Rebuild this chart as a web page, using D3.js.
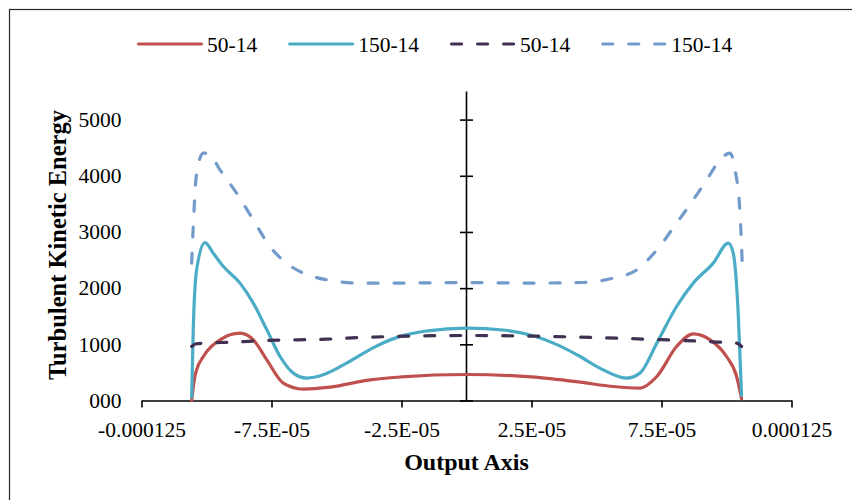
<!DOCTYPE html>
<html>
<head>
<meta charset="utf-8">
<script src="https://cdn.jsdelivr.net/npm/d3@7"></script>
<style>
  html, body { margin: 0; padding: 0; background: #fff; }
  svg { display: block; }
  text { font-family: "Liberation Serif", "Times New Roman", serif; fill: #000; }
</style>
</head>
<body>
<svg id="chart" width="852" height="500"></svg>
<script>
// Turbulent kinetic energy profiles across the output axis (x in metres)
const seriesNames = ["50-14", "150-14", "50-14", "150-14"];

const solid50X = [-10.57, -10.45, -10.38, -10.12, -9.48, -8.71, -8.2, -7.68, -7.05, -6.28, -5.25, -3.71, -2.5, 0, 2.5, 4.37, 5.65, 6.67, 7.32, 8.08, 8.72, 9.37, 10.0, 10.39, 10.58];
const solid50Y = [0, 420, 546, 783, 1080, 1199, 1080, 724, 310, 203, 238, 368, 420, 463, 420, 327, 249, 221, 427, 961, 1187, 1080, 783, 427, 30];

const solid150X = [-10.57, -10.51, -10.38, -10.06, -9.74, -9.35, -8.71, -8.2, -7.68, -7.17, -6.66, -6.15, -5.51, -4.61, -3.5, -2.5, -1.5, 0, 1.5, 2.5, 3.5, 4.37, 5.13, 6.16, 6.67, 7.32, 8.08, 8.72, 9.49, 10.07, 10.26, 10.45, 10.58];
const solid150Y = [60, 1258, 2326, 2811, 2622, 2384, 2089, 1733, 1258, 783, 487, 399, 457, 665, 960, 1150, 1240, 1290, 1250, 1160, 990, 783, 576, 399, 487, 1021, 1673, 2089, 2445, 2801, 2622, 1555, 90];

const dashed50X = [-10.57, -10.4, -9.0, -7.68, -5.38, -3.71, 0, 4.37, 6.9, 9.49, 10.39, 10.58];
const dashed50Y = [961, 1010, 1040, 1068, 1092, 1128, 1157, 1128, 1092, 1044, 1021, 961];

const dashed150X = [-10.57, -10.51, -10.38, -10.12, -9.93, -9.48, -8.84, -8.2, -7.56, -6.92, -6.28, -5.38, -4.1, -2.5, 0, 2.5, 4.37, 5.65, 6.55, 7.32, 8.08, 8.72, 9.24, 9.75, 10.13, 10.33, 10.52, 10.61];
const dashed150Y = [2445, 3093, 4046, 4402, 4402, 4105, 3690, 3215, 2740, 2445, 2267, 2148, 2089, 2090, 2100, 2090, 2100, 2178, 2326, 2681, 3156, 3571, 3927, 4283, 4402, 4105, 3334, 2384];

const xTickValues = [-0.000125, -0.000075, -0.000025, 0.000025, 0.000075, 0.000125];
const xTickLabels = ["-0.000125", "-7.5E-05", "-2.5E-05", "2.5E-05", "7.5E-05", "0.000125"];
const yTickValues = [0, 1000, 2000, 3000, 4000, 5000];
const yTickLabels = ["000", "1000", "2000", "3000", "4000", "5000"];

const colors = ["#C0504D", "#4BACC6", "#403152", "#729ACB"];
const dashed = [false, false, true, true];

const series = [
  { name: seriesNames[0], xs: solid50X, ys: solid50Y },
  { name: seriesNames[1], xs: solid150X, ys: solid150Y },
  { name: seriesNames[2], xs: dashed50X, ys: dashed50Y },
  { name: seriesNames[3], xs: dashed150X, ys: dashed150Y }
].map((s, i) => ({
  ...s,
  color: colors[i],
  dashed: dashed[i],
  points: s.xs.map((x, j) => ({ x: x * 1e-5, y: s.ys[j] }))
}));

const svg = d3.select("#chart");

// outer chart frame
svg.append("rect")
  .attr("x", 9.5).attr("y", 9.5)
  .attr("width", 1000).attr("height", 1000)
  .attr("fill", "none").attr("stroke", "#262626").attr("stroke-width", 1.2);

const x = d3.scaleLinear().domain([-0.000125, 0.000125]).range([141.5, 791.5]);
const y = d3.scaleLinear().domain([0, 5500]).range([400.5, 91.5]);

// horizontal axis with outward ticks
const xAxis = svg.append("g")
  .attr("transform", `translate(0,${y(0)})`)
  .call(d3.axisBottom(x).tickValues(xTickValues).tickFormat((d, i) => xTickLabels[i]).tickSize(7).tickSizeOuter(0).tickPadding(10));
xAxis.select(".domain").attr("stroke", "#000").attr("stroke-width", 1.6);
xAxis.selectAll(".tick line").attr("stroke", "#000").attr("stroke-width", 1.6);
xAxis.selectAll(".tick text").attr("font-size", 21.5).attr("font-family", "Liberation Serif").attr("dy", "0.9em");

// vertical axis through x = 0, crossing tick marks
const yAxis = svg.append("g")
  .attr("transform", `translate(${x(0)},0)`)
  .call(d3.axisLeft(y).tickValues(yTickValues).tickFormat("").tickSizeInner(6.5).tickSizeOuter(0));
yAxis.select(".domain").attr("stroke", "#000").attr("stroke-width", 1.6)
  .attr("d", `M0,${y(0)}V${y(5500)}`);
yAxis.selectAll(".tick line").attr("stroke", "#000").attr("stroke-width", 1.6)
  .attr("x1", -6.5).attr("x2", 6.5);

// tick labels placed at the low side of the plot
svg.append("g").selectAll("text")
  .data(yTickValues)
  .join("text")
  .attr("x", 121.5)
  .attr("y", d => y(d))
  .attr("dy", "0.34em")
  .attr("text-anchor", "end")
  .attr("font-size", 21.5)
  .text((d, i) => yTickLabels[i]);

// axis titles
svg.append("text")
  .attr("x", x(0)).attr("y", 470)
  .attr("text-anchor", "middle")
  .attr("font-size", 24).attr("font-weight", "bold")
  .text("Output Axis");

svg.append("text")
  .attr("transform", "translate(66,245) rotate(-90)")
  .attr("text-anchor", "middle")
  .attr("font-size", 24.5).attr("font-weight", "bold")
  .text("Turbulent Kinetic Energy");

// series lines
const line = d3.line().x(d => x(d.x)).y(d => y(d.y)).curve(d3.curveMonotoneX);
svg.append("g").selectAll("path")
  .data(series)
  .join("path")
  .attr("d", d => line(d.points))
  .attr("fill", "none")
  .attr("stroke", d => d.color)
  .attr("stroke-width", 3.2)
  .attr("stroke-linecap", "round")
  .attr("stroke-linejoin", "round")
  .attr("stroke-dasharray", d => d.dashed ? "10,16" : null);

// legend laid out left to right
const legend = svg.append("g");
let cursor = 137;
series.forEach(s => {
  legend.append("line")
    .attr("x1", cursor + 1.5).attr("x2", cursor + 64.5)
    .attr("y1", 44).attr("y2", 44)
    .attr("stroke", s.color).attr("stroke-width", 3.2)
    .attr("stroke-linecap", "round")
    .attr("stroke-dasharray", s.dashed ? "10,16" : null);
  const t = legend.append("text")
    .attr("x", cursor + 70).attr("y", 51.5)
    .attr("font-size", 21.5)
    .text(s.name);
  cursor += 70 + t.node().getComputedTextLength() + 31;
});
</script>
</body>
</html>
